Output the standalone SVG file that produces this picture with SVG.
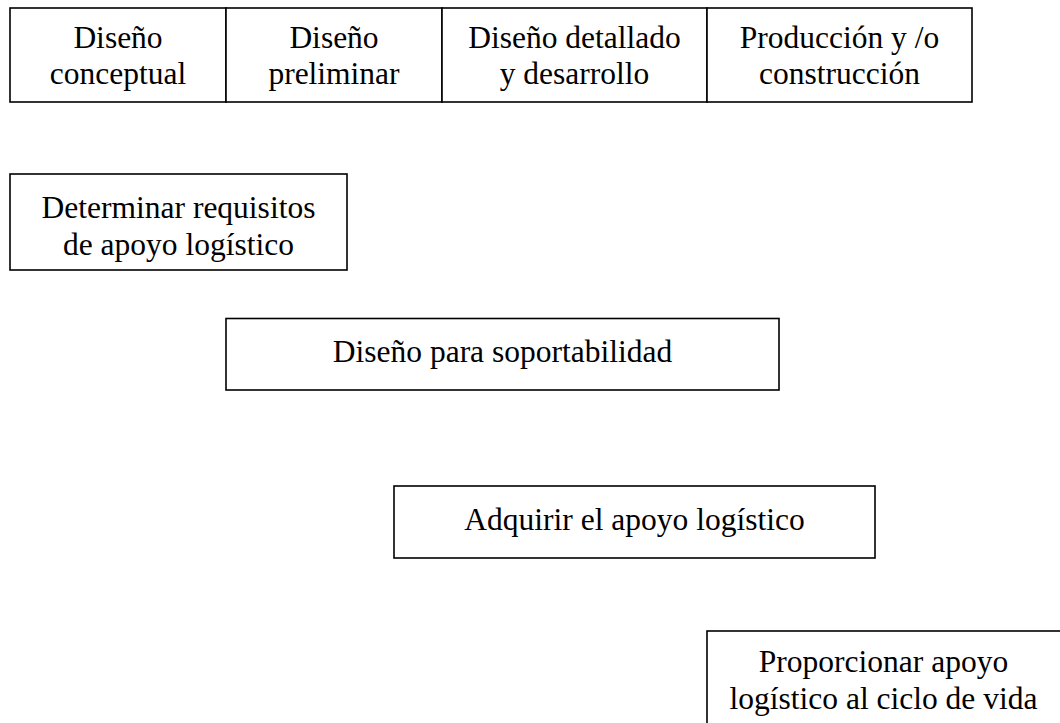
<svg xmlns="http://www.w3.org/2000/svg" width="1060" height="723" viewBox="0 0 1060 723">
<style>
.box{fill:#fff;stroke:#000;stroke-width:1.6}
.t{font-family:"Liberation Serif","Times New Roman",serif;font-size:31.5px;fill:#000;text-anchor:middle}
</style>
<rect width="1060" height="723" fill="#fff"/>
<g id="fases">
<g id="fase1"><rect class="box" x="10" y="8" width="216" height="94"/><text class="t" x="118" y="48">Diseño</text><text class="t" x="118" y="84">conceptual</text></g>
<g id="fase2"><rect class="box" x="226" y="8" width="216" height="94"/><text class="t" x="334" y="48">Diseño</text><text class="t" x="334" y="84">preliminar</text></g>
<g id="fase3"><rect class="box" x="442" y="8" width="265" height="94"/><text class="t" x="574.5" y="48">Diseño detallado</text><text class="t" x="574.5" y="84">y desarrollo</text></g>
<g id="fase4"><rect class="box" x="707" y="8" width="265" height="94"/><text class="t" x="839.5" y="48">Producción y /o</text><text class="t" x="839.5" y="84">construcción</text></g>
</g>
<g id="determinar"><rect class="box" x="10" y="174" width="337" height="96"/><text class="t" x="178.5" y="218">Determinar requisitos</text><text class="t" x="178.5" y="254.5">de apoyo logístico</text></g>
<g id="diseno"><rect class="box" x="226" y="318.5" width="553" height="71.5"/><text class="t" x="502.5" y="362">Diseño para soportabilidad</text></g>
<g id="adquirir"><rect class="box" x="394" y="486" width="481" height="72"/><text class="t" x="634.5" y="530">Adquirir el apoyo logístico</text></g>
<g id="proporcionar"><rect class="box" x="707" y="631" width="360" height="100"/><text class="t" x="883.5" y="672">Proporcionar apoyo</text><text class="t" x="883.5" y="709">logístico al ciclo de vida</text></g>
<g id="connectors"></g>
</svg>
